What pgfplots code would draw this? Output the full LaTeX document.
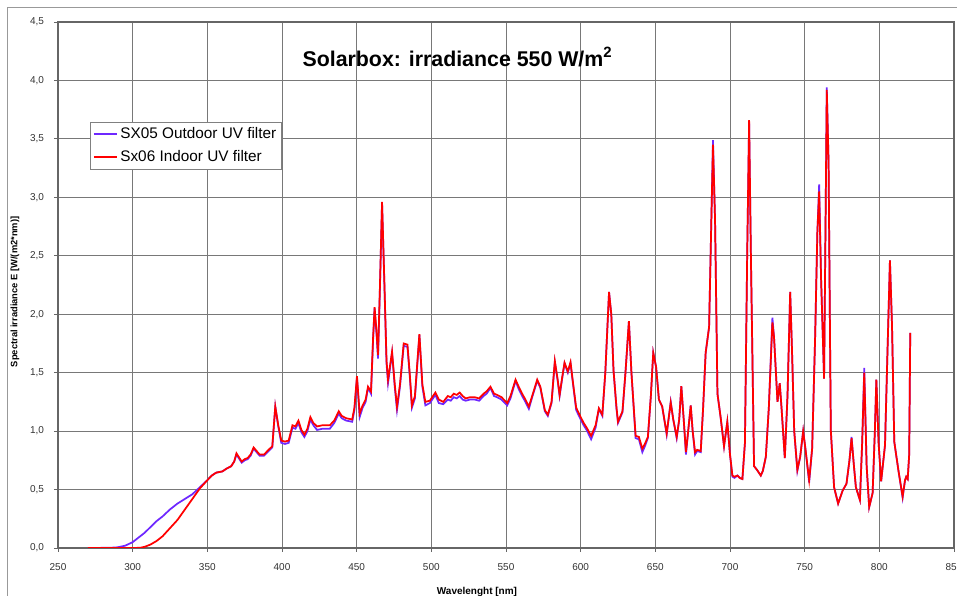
\documentclass[border=0pt]{standalone}
\usepackage{pgfplots}
\pgfplotsset{compat=1.18}
\usepackage{pgfplotstable}
\usepackage{fontspec}
\setmainfont{Liberation Sans}
\definecolor{sxblue}{RGB}{110,40,255}
\definecolor{sxred}{RGB}{255,0,0}
\definecolor{gridc}{RGB}{120,120,120}
\pgfplotstableread{
x b r
270 0 0
285 0.002 0
290 0.006 0
295 0.02 0
300 0.05 0
305 0.10 0.002
308 0.13 0.01
312 0.18 0.03
316 0.23 0.06
320 0.27 0.10
325 0.33 0.17
330 0.38 0.24
335 0.42 0.33
340 0.46 0.42
345 0.52 0.51
350 0.58 0.58
353 0.62 0.62
356 0.645 0.645
360 0.655 0.655
363 0.68 0.68
366 0.70 0.70
368 0.74 0.74
369.5 0.80 0.81
371 0.77 0.78
373 0.73 0.74
375 0.75 0.76
377 0.76 0.77
379 0.79 0.80
381 0.85 0.86
383 0.82 0.83
385 0.79 0.80
388 0.79 0.80
391 0.83 0.84
393.5 0.86 0.87
395.5 1.21 1.21
397.5 1.04 1.05
399.5 0.90 0.92
402 0.89 0.91
404.5 0.90 0.92
407 1.03 1.05
409 1.02 1.04
411 1.07 1.09
413 0.99 1.01
415 0.95 0.97
417 1.00 1.02
419 1.10 1.12
421 1.05 1.07
423.5 1.01 1.04
427 1.02 1.05
432 1.02 1.05
435 1.07 1.09
438 1.15 1.17
440 1.11 1.13
443 1.09 1.11
447 1.08 1.10
448.5 1.18 1.20
450.2 1.46 1.47
452 1.12 1.15
454 1.20 1.22
456 1.25 1.27
457.6 1.37 1.38
459.6 1.32 1.34
461 1.78 1.80
462 2.05 2.06
463.3 1.83 1.85
464.3 1.62 1.65
465.5 2.18 2.20
467 2.95 2.96
468.5 2.28 2.30
470 1.58 1.60
471 1.41 1.44
473.7 1.67 1.68
475.5 1.38 1.40
477 1.18 1.21
479 1.38 1.40
481.5 1.73 1.75
484 1.72 1.74
485.5 1.48 1.50
487 1.20 1.22
489 1.28 1.30
492 1.82 1.83
494 1.38 1.40
496 1.22 1.25
499 1.24 1.26
502.7 1.31 1.33
505 1.24 1.27
508 1.23 1.25
511 1.27 1.30
513 1.26 1.29
515 1.29 1.32
517 1.28 1.31
519 1.30 1.33
521 1.27 1.30
523 1.26 1.28
526 1.27 1.29
529 1.27 1.29
532 1.26 1.28
535 1.30 1.32
537 1.32 1.34
539.6 1.37 1.38
542 1.30 1.32
544 1.29 1.31
547 1.27 1.29
550.8 1.22 1.24
553 1.28 1.30
556.4 1.43 1.44
558.5 1.36 1.38
560.8 1.30 1.32
563 1.25 1.27
565.3 1.19 1.21
568 1.31 1.32
570.9 1.43 1.44
573 1.37 1.38
576 1.17 1.18
578 1.13 1.14
580.5 1.24 1.25
582.7 1.59 1.60
584.5 1.44 1.45
585.9 1.30 1.31
587.5 1.44 1.45
589.2 1.58 1.585
591.4 1.50 1.51
593.2 1.58 1.59
595 1.39 1.40
597 1.18 1.20
600 1.10 1.12
602 1.05 1.07
604 1.01 1.03
607 0.93 0.96
610 1.03 1.05
612.2 1.19 1.195
614.5 1.13 1.14
616.5 1.5 1.5
619 2.19 2.19
620.5 2.0 2.0
622 1.52 1.52
624 1.19 1.2
625 1.07 1.08
628 1.16 1.17
630 1.5 1.5
632.3 1.94 1.94
634 1.5 1.5
636.8 0.94 0.96
639 0.93 0.95
641.3 0.82 0.85
643 0.87 0.89
645 0.94 0.95
647 1.3 1.3
648.6 1.67 1.67
650.5 1.55 1.55
652.4 1.27 1.27
654.6 1.21 1.21
657.6 0.97 0.98
660.3 1.25 1.245
662 1.1 1.1
664.3 0.94 0.95
666 1.1 1.1
667.4 1.385 1.385
669 1.1 1.1
670.5 0.80 0.82
672 1.0 1.0
673.7 1.22 1.22
675 1.0 1.0
676.6 0.80 0.82
678 0.83 0.84
680.4 0.82 0.83
682 1.2 1.2
683.7 1.67 1.67
686 1.89 1.89
687.5 2.8 2.8
688.6 3.49 3.45
690 2.8 2.8
691.6 1.32 1.32
693.7 1.12 1.12
696 0.87 0.87
698.2 1.08 1.08
700 0.8 0.8
701.6 0.61 0.62
703 0.60 0.61
705 0.62 0.62
706.5 0.60 0.60
708.3 0.59 0.59
710 0.9 0.9
711.5 2.5 2.5
712.8 3.64 3.66
714 2.5 2.5
716.1 0.70 0.70
718 0.67 0.67
720.6 0.62 0.62
722 0.66 0.66
724 0.78 0.78
726 1.2 1.2
728.4 1.97 1.93
729.5 1.8 1.8
731.8 1.25 1.25
733.3 1.41 1.41
734.5 1.2 1.2
736.7 0.77 0.77
738.5 1.3 1.3
740.3 2.19 2.19
741.5 1.7 1.7
743 1.0 1.0
745.1 0.66 0.67
747 0.78 0.78
749 1.00 1.00
750.5 0.85 0.85
753 0.56 0.58
755 0.85 0.85
757 1.8 1.8
758.5 2.7 2.7
759.7 3.11 3.05
761 2.3 2.3
763 1.45 1.45
764 2.8 2.8
764.8 3.94 3.92
766 3.3 3.3
767.5 1.01 1.01
769.7 0.52 0.52
772.4 0.38 0.38
775.4 0.49 0.49
778 0.55 0.55
780 0.75 0.75
781.4 0.95 0.94
783 0.7 0.7
784.3 0.52 0.52
787 0.41 0.41
788.5 0.9 0.9
789.9 1.54 1.50
791.5 0.7 0.7
793.2 0.35 0.35
795.5 0.47 0.47
797 1.0 1.0
798 1.44 1.44
799.5 0.9 0.9
801.2 0.57 0.57
803.8 0.88 0.88
805.5 1.7 1.7
807.1 2.46 2.46
808.5 1.9 1.9
810 0.91 0.91
812.7 0.67 0.67
815.6 0.43 0.44
817.2 0.58 0.58
818 0.61 0.61
819 0.59 0.59
820 0.8 0.8
820.7 1.84 1.84
}\spec
\begin{document}
\begin{tikzpicture}
\begin{axis}[
  scale only axis, width=672pt, height=394.5pt,
  xmin=250, xmax=850, ymin=0, ymax=4.5,
  xtick={250,300,...,850}, ytick={0,0.5,1,1.5,2,2.5,3,3.5,4,4.5},
  grid=major, major grid style={gridc, line width=0.6pt},
  axis line style={black!60, line width=1.3pt},
  tick style={black!60, line width=0.6pt}, tick align=outside, major tick length=3pt,
  tick pos=left,
  /pgf/number format/assume math mode=true,
  ticklabel style={font=\fontsize{7.5}{9}\selectfont, text=black!80},
  yticklabel style={/pgf/number format/.cd, fixed, fixed zerofill, precision=1, use comma, /tikz/.cd, xshift=-4pt},
  xticklabel style={/pgf/number format/.cd, fixed, precision=0, 1000 sep={}, /tikz/.cd, yshift=-5pt},
  xlabel={Wavelenght [nm]},
  xlabel style={font=\bfseries\fontsize{7.5}{9}\selectfont, at={(axis description cs:0.4676,0)}, anchor=north, yshift=-25.6pt},
  ylabel={Spectral irradiance E [W/(m2*nm)]},
  ylabel style={font=\bfseries\fontsize{7}{8}\selectfont, at={(axis description cs:-0.048,0.487)}, anchor=center},
  legend style={at={(axis description cs:0.0357,0.81)}, anchor=north west, draw=gray, line width=0.6pt, font=\fontsize{11.5}{13}\selectfont, inner sep=2pt, row sep=3.5pt, fill=white},
  legend image post style={line width=1.4pt},
  legend cell align=left,
]
\addplot[sxblue, line width=1.3pt] table[x=x, y=b] {\spec};
\addlegendentry{SX05 Outdoor UV filter}
\addplot[sxred, line width=1.3pt] table[x=x, y=r] {\spec};
\addlegendentry{Sx06 Indoor UV filter}
\node[font=\bfseries\fontsize{16}{18}\selectfont] at (axis cs:517.5,4.2) {Solarbox: irradiance 550 W/m\textsuperscript{2}};
\end{axis}
\pgfresetboundingbox
\useasboundingbox (-43.5pt,-36pt) rectangle (674.25pt,411pt);
\draw[black!40, line width=0.75pt] (-37.5pt,-36pt) -- (-37.5pt,405pt) -- (674.25pt,405pt);
\end{tikzpicture}
\end{document}
